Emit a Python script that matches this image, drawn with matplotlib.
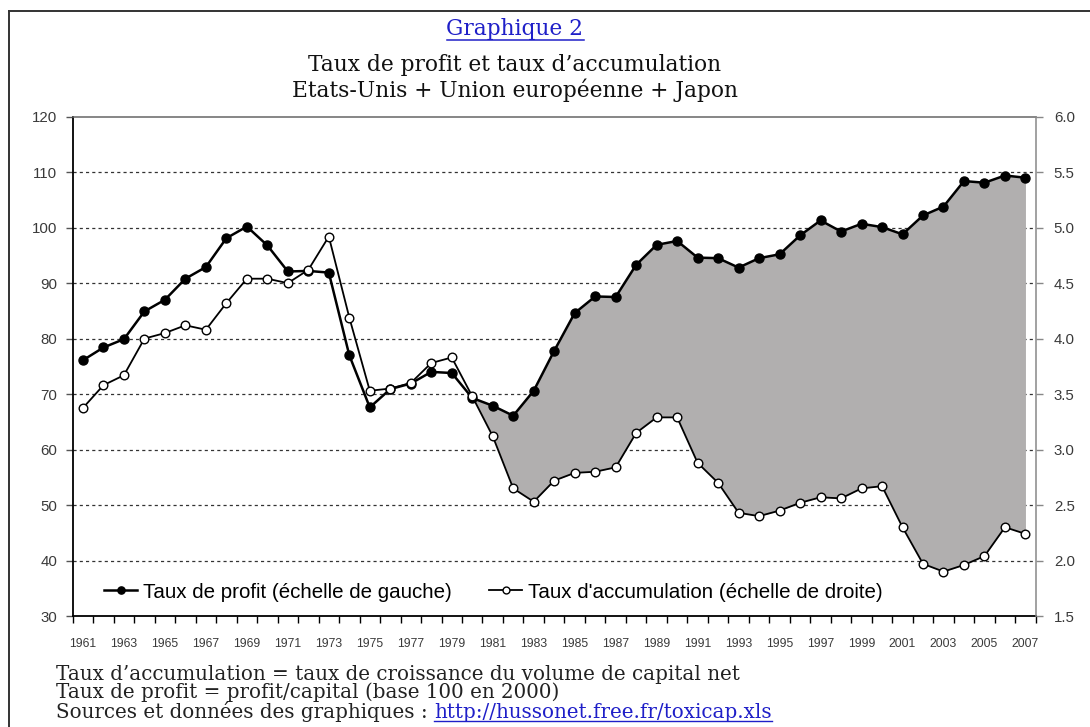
import matplotlib
matplotlib.use("Agg")
import matplotlib.pyplot as plt
import numpy as np
from matplotlib.lines import Line2D
from matplotlib.ticker import FixedLocator, FixedFormatter, FuncFormatter

years = list(range(1961, 2008))
profit = [76.1, 78.4, 79.9, 84.9, 87.0, 90.8, 92.9, 98.1, 100.2, 96.8,
          92.1, 92.2, 91.9, 77.0, 67.6, 70.9, 71.9, 74.0, 73.8, 69.3,
          67.9, 66.1, 70.6, 77.8, 84.6, 87.6, 87.5, 93.3, 96.9, 97.6,
          94.6, 94.5, 92.8, 94.5, 95.2, 98.6, 101.3, 99.3, 100.7, 100.1,
          98.8, 102.2, 103.8, 108.4, 108.1, 109.4, 109.0]
accumulation = [3.375, 3.58, 3.67, 4.00, 4.05, 4.12, 4.08, 4.32, 4.54, 4.54,
                4.50, 4.62, 4.92, 4.19, 3.53, 3.55, 3.60, 3.78, 3.83, 3.48,
                3.12, 2.65, 2.53, 2.72, 2.79, 2.80, 2.84, 3.15, 3.29, 3.29,
                2.88, 2.70, 2.43, 2.40, 2.45, 2.52, 2.57, 2.56, 2.65, 2.67,
                2.30, 1.97, 1.90, 1.96, 2.04, 2.30, 2.24]
left_ticks = [30, 40, 50, 60, 70, 80, 90, 100, 110, 120]
right_ticks = [1.5, 2.0, 2.5, 3.0, 3.5, 4.0, 4.5, 5.0, 5.5, 6.0]
fill_start_year = 1980

title_1 = "Graphique 2"
title_2 = "Taux de profit et taux d\u2019accumulation"
title_3 = "Etats-Unis + Union europ\u00e9enne + Japon"
label_profit = "Taux de profit (\u00e9chelle de gauche)"
label_acc = "Taux d'accumulation (\u00e9chelle de droite)"
note_1 = "Taux d\u2019accumulation = taux de croissance du volume de capital net"
note_2 = "Taux de profit = profit/capital (base 100 en 2000)"
note_3 = "Sources et donn\u00e9es des graphiques : "
note_url = "http://hussonet.free.fr/toxicap.xls"

W, H = 1090, 727
fig = plt.figure(figsize=(W / 100, H / 100), dpi=100)
fig.patch.set_facecolor("white")

# outer frame
fig.add_artist(Line2D([9 / W, 1.0], [1 - 11 / H, 1 - 11 / H], transform=fig.transFigure,
                      color="#333333", lw=1.4))
fig.add_artist(Line2D([9 / W, 9 / W], [0.0, 1 - 11 / H], transform=fig.transFigure,
                      color="#333333", lw=1.4))

ax_l, ax_r, ax_t, ax_b = 72.7, 1035.7, 116.7, 616.0
ax = fig.add_axes([ax_l / W, 1 - ax_b / H, (ax_r - ax_l) / W, (ax_b - ax_t) / H])
ax2 = ax.twinx()

lo_l, hi_l = left_ticks[0], left_ticks[-1]
lo_r, hi_r = right_ticks[0], right_ticks[-1]
ax.set_ylim(lo_l, hi_l)
ax2.set_ylim(lo_r, hi_r)

x = np.arange(len(years))
prof = np.array(profit)
acc = np.array(accumulation)
acc_on_left = lo_l + (acc - lo_r) * (hi_l - lo_l) / (hi_r - lo_r)

ax.set_xlim(-0.5, len(years) - 0.5)

# gridlines
for v in left_ticks[1:-1]:
    ax.axhline(v, color="#333333", lw=0.9, ls=(0, (2.5, 2.5)), zorder=1)

mask = np.array(years) >= fill_start_year
ax.fill_between(x, prof, acc_on_left, where=mask, color="#b1afaf", lw=0, zorder=2)

ax.plot(x, prof, color="black", lw=1.8, marker="o", ms=6.5, mfc="black", mec="black",
        zorder=4, label=label_profit)
ax2.plot(x, acc, color="black", lw=1.3, marker="o", ms=6.2, mfc="white", mec="black",
         mew=1.0, zorder=5, label=label_acc)

# x ticks: boundaries with marks, labels at every other year
ax.xaxis.set_major_locator(FixedLocator(np.arange(-0.5, len(years), 1.0)))
ax.xaxis.set_major_formatter(FixedFormatter([""] * (len(years) + 1)))
lab_pos = x[::2]
ax.xaxis.set_minor_locator(FixedLocator(lab_pos))
ax.xaxis.set_minor_formatter(FixedFormatter([str(years[i]) for i in lab_pos]))
ax.tick_params(axis="x", which="major", direction="out", length=5, width=1, color="black")
ax.tick_params(axis="x", which="minor", length=0, pad=15.5, labelsize=8.8, labelcolor="#3a3a3a")

ax.set_yticks(left_ticks)
ax.set_yticklabels([str(v) for v in left_ticks])
ax.tick_params(axis="y", direction="out", length=5, width=1, color="#555555",
               labelsize=10.8, labelcolor="#3a3a3a", pad=6)
ax2.set_yticks(right_ticks)
ax2.yaxis.set_major_formatter(FuncFormatter(lambda v, p: f"{v:.1f}"))
ax2.tick_params(axis="y", direction="out", length=5, width=1, color="#888888",
                labelsize=10.8, labelcolor="#3a3a3a", pad=8)

for a in (ax, ax2):
    for lab in a.get_xticklabels(which="both") + a.get_yticklabels():
        lab.set_family("Liberation Sans")

ax.spines["left"].set_color("black")
ax.spines["left"].set_linewidth(1.3)
ax.spines["bottom"].set_color("black")
ax.spines["bottom"].set_linewidth(1.3)
ax.spines["top"].set_color("#666666")
ax.spines["top"].set_linewidth(1.1)
ax.spines["right"].set_visible(False)
ax2.spines["left"].set_visible(False)
ax2.spines["top"].set_visible(False)
ax2.spines["bottom"].set_visible(False)
ax2.spines["right"].set_color("#888888")
ax2.spines["right"].set_linewidth(1.1)

h1, l1 = ax.get_legend_handles_labels()
h2, l2 = ax2.get_legend_handles_labels()
leg = ax2.legend(h1 + h2, l1 + l2, ncol=2, frameon=False, loc="lower left",
                 bbox_to_anchor=(0.018, 0.0), prop={"family": "Liberation Sans", "size": 14.8},
                 handlelength=1.6, handletextpad=0.3, columnspacing=1.8, markerscale=0.8,
                 borderaxespad=0.3)

# titles
serif = "DejaVu Serif"
cx = 515 / W
tsize = 15.7
t1 = fig.text(cx, 1 - 35 / H, title_1, ha="center", va="baseline", family=serif,
              size=tsize, color="#1f1fc8")
fig.text(cx, 1 - 71 / H, title_2, ha="center", va="baseline", family=serif, size=tsize,
         color="#111111")
fig.text(cx, 1 - 97 / H, title_3, ha="center", va="baseline", family=serif, size=tsize,
         color="#111111")

nx = 56 / W
nsize = 14.3
fig.text(nx, 1 - 680 / H, note_1, ha="left", va="baseline", family=serif, size=nsize, color="#222222")
fig.text(nx, 1 - 698 / H, note_2, ha="left", va="baseline", family=serif, size=nsize, color="#222222")
n3 = fig.text(nx, 1 - 717.5 / H, note_3, ha="left", va="baseline", family=serif, size=nsize,
              color="#222222")

fig.canvas.draw()
r = fig.canvas.get_renderer()
bb3 = n3.get_window_extent(r)
url = fig.text(bb3.x1 / W, 1 - 717.5 / H, note_url, ha="left", va="baseline", family=serif,
               size=nsize, color="#1f1fc8")
fig.canvas.draw()
bbu = url.get_window_extent(r)
yu = (H - 721) / H
fig.add_artist(Line2D([bbu.x0 / W, bbu.x1 / W], [yu, yu], transform=fig.transFigure,
                      color="#1f1fc8", lw=1.0))
bbt = t1.get_window_extent(r)
yt = (H - 39.5) / H
fig.add_artist(Line2D([bbt.x0 / W, bbt.x1 / W], [yt, yt], transform=fig.transFigure,
                      color="#1f1fc8", lw=1.1))

fig.savefig("out.png", dpi=100, facecolor="white")
